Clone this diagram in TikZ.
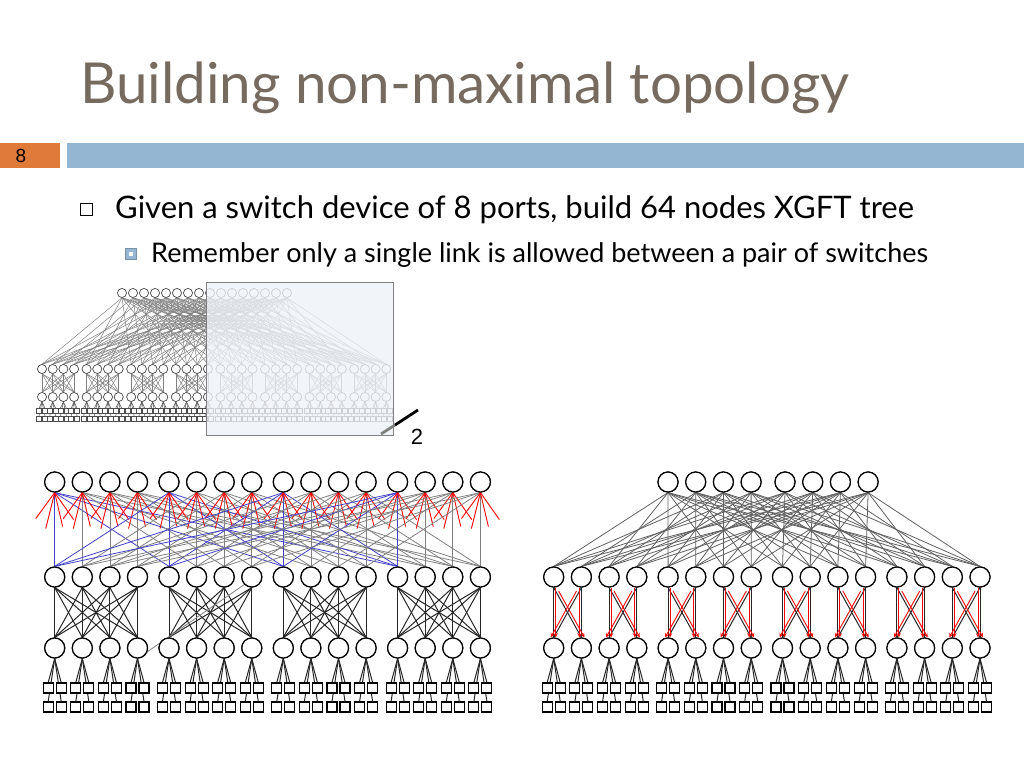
\documentclass[tikz,border=0pt]{standalone}
\usepackage{fontspec}
\setmainfont{Lato}
\newfontfamily\arialf{Liberation Sans}
\definecolor{titlec}{HTML}{776A5E}
\definecolor{barblue}{HTML}{94B6D3}
\definecolor{barorange}{HTML}{E07A38}
\definecolor{linkg}{HTML}{606060}
\definecolor{linkb}{HTML}{4040C8}
\definecolor{ovl}{HTML}{EEF2F7}
\begin{document}
\begin{tikzpicture}[x=1pt,y=-1pt,
  sw/.style={circle,draw,line width=1.2pt,minimum size=20pt,inner sep=0pt,fill=white},
  host/.style={rectangle,draw,line width=1.1pt,minimum size=10pt,inner sep=0pt,fill=white},
  ssw/.style={circle,draw,line width=0.6pt,minimum size=9pt,inner sep=0pt,fill=white,draw=black!70},
  shost/.style={rectangle,draw,line width=0.5pt,minimum size=5pt,inner sep=0pt,fill=white,draw=black!70},
  lnk/.style={linkg,line width=0.8pt},
  dn/.style={black!85,line width=1pt},
  rl/.style={red,line width=0.9pt}]
\useasboundingbox (0,0) rectangle (1024,768);
% header
\node[anchor=base west,inner sep=0pt,text=titlec,font=\fontsize{56.5}{60}\selectfont] (title) at (80,103) {Building non-maximal topology};
\fill[barorange] (0,143) rectangle (60,168);
\node[font=\fontsize{19}{20}\selectfont\arialf] (pg) at (21,155.5) {8};
\fill[barblue] (67,143) rectangle (1024,168);
\node[draw,line width=0.9pt,minimum size=12pt,inner sep=0pt] (b1) at (86,209) {};
\node[anchor=base west,inner sep=0pt,font=\fontsize{31}{34}\selectfont] (t1) at (115,218) {Given a switch device of 8 ports, build 64 nodes XGFT tree};
\node[draw=barblue!80!black,fill=barblue,line width=0.8pt,minimum size=11pt,inner sep=0pt] (b2) at (131,254) {};
\node[fill=white,minimum size=4pt,inner sep=0pt] at (131,254) {};
\node[anchor=base west,inner sep=0pt,font=\fontsize{27}{30}\selectfont] (t2) at (151,262) {Remember only a single link is allowed between a pair of switches};

% ===== small figure =====
\foreach \i in {0,...,31}{
  \pgfmathsetmacro\xx{42+mod(\i,4)*10.7+floor(\i/4)*44.6}
  \node[ssw] (SM\i) at (\xx,369) {};
  \node[ssw] (SB\i) at (\xx,397) {};
  \node[shost] (SHa\i) at (\xx-3,411) {};
  \node[shost] (SHb\i) at (\xx+3,411) {};
  \node[shost] (SHc\i) at (\xx-3,419) {};
  \node[shost] (SHd\i) at (\xx+3,419) {};
}
\foreach \i in {0,...,15}{
  \pgfmathsetmacro\xx{122+\i*11}
  \node[ssw] (ST\i) at (\xx,293) {};
}
\foreach \t in {0,...,15}{
  \foreach \g in {0,...,7}{
    \pgfmathtruncatemacro\m{\g*4+mod(\t,4)}
    \draw[gray,line width=0.5pt] (ST\t.south) -- (SM\m.north);
  }
}
\foreach \g in {0,...,7}{
  \foreach \a in {0,...,3}{
    \foreach \b in {0,...,3}{
      \pgfmathtruncatemacro\ma{\g*4+\a}
      \pgfmathtruncatemacro\mb{\g*4+\b}
      \draw[gray,line width=0.5pt] (SM\ma.south) -- (SB\mb.north);
    }
  }
}
\foreach \i in {0,...,31}{
  \foreach \h in {a,b,c,d}{\draw[black!70,line width=0.5pt] (SB\i.south) -- (SH\h\i.north);}
  \node[ssw] at (SM\i) {};\node[ssw] at (SB\i) {};
  \node[shost] at (SHa\i) {};\node[shost] at (SHb\i) {};
}
\foreach \i in {0,...,15}{\node[ssw] at (ST\i) {};}
\fill[ovl,opacity=0.8] (206,282) rectangle (393,435);
\draw[gray,line width=0.8pt] (206,282) rectangle (393,435);
\coordinate (slA) at (381,434);
\coordinate (slM) at (395,425);
\coordinate (slB) at (418,410);
\draw[line width=2.8pt,gray] (slA) -- (slM);
\draw[line width=2.8pt] (slM) -- (slB);
\node[font=\fontsize{22}{24}\selectfont\arialf] (two) at (417,437) {2};

% ===== big left =====
\foreach \i in {0,...,15}{
  \pgfmathsetmacro\xx{54.7+mod(\i,4)*27.6+floor(\i/4)*114.3}
  \node[sw] (LT\i) at (\xx,482) {};
  \node[sw] (LM\i) at (\xx,577) {};
  \node[sw] (LB\i) at (\xx,648) {};
  \node[host] (LHa\i) at (\xx-6.5,688) {};
  \node[host] (LHb\i) at (\xx+6.5,688) {};
  \node[host] (LHc\i) at (\xx-6.5,707) {};
  \node[host] (LHd\i) at (\xx+6.5,707) {};
}
\foreach \t in {0,...,15}{
  \foreach \g in {0,...,3}{
    \pgfmathtruncatemacro\m{\g*4+mod(\t,4)}
    \pgfmathtruncatemacro\r{mod(\t,4)}
    \ifnum\r=0
      \draw[linkb,line width=0.8pt] (LT\t.south) -- (LM\m.north);
    \else
      \draw[lnk,gray] (LT\t.south) -- (LM\m.north);
    \fi
  }
  \draw[rl] (LT\t.south) -- ++(-19,26);
  \draw[rl] (LT\t.south) -- ++(-9,36);
  \draw[rl] (LT\t.south) -- ++(8,34);
  \draw[rl] (LT\t.south) -- ++(19,27);
}
\foreach \g in {0,...,3}{
  \foreach \a in {0,...,3}{
    \foreach \b in {0,...,3}{
      \pgfmathtruncatemacro\ma{\g*4+\a}
      \pgfmathtruncatemacro\mb{\g*4+\b}
      \draw[dn] (LM\ma.south) -- (LB\mb.north);
    }
  }
}
\draw[lnk,gray] (LB3.south) -- (LM7.south west);
\foreach \i in {0,...,15}{
  \foreach \h in {a,b,c,d}{\draw[dn] (LB\i.south) -- (LH\h\i.north);}
  \node[host] at (LHa\i) {};\node[host] at (LHb\i) {};
  \node[sw] at (LT\i) {};\node[sw] at (LM\i) {};\node[sw] at (LB\i) {};
}

% ===== big right =====
\foreach \i in {0,...,15}{
  \pgfmathsetmacro\xx{553.7+mod(\i,4)*27.7+floor(\i/4)*114.4}
  \node[sw] (RM\i) at (\xx,577) {};
  \node[sw] (RB\i) at (\xx,648) {};
  \node[host] (RHa\i) at (\xx-6.5,688) {};
  \node[host] (RHb\i) at (\xx+6.5,688) {};
  \node[host] (RHc\i) at (\xx-6.5,707) {};
  \node[host] (RHd\i) at (\xx+6.5,707) {};
}
\foreach \i in {0,...,7}{
  \pgfmathsetmacro\xx{668+mod(\i,4)*27.7+floor(\i/4)*117}
  \node[sw] (RT\i) at (\xx,482) {};
}
\foreach \t in {0,...,7}{
  \foreach \p in {0,...,7}{
    \pgfmathtruncatemacro\m{2*\p+mod(\t,2)}
    \draw[lnk] (RT\t.south) -- (RM\m.north);
  }
}
\foreach \p in {0,...,7}{
  \pgfmathtruncatemacro\ma{2*\p}
  \pgfmathtruncatemacro\mb{2*\p+1}
  \draw[dn] (RM\ma.south) -- (RB\ma.north);
  \draw[dn] (RM\mb.south) -- (RB\mb.north);
  \draw[dn] (RM\ma.south) -- (RB\mb.north);
  \draw[dn] (RM\mb.south) -- (RB\ma.north);
  \draw[rl,->,>=stealth] ([xshift=2pt]RM\ma.south) -- ([xshift=2pt]RB\ma.north);
  \draw[rl,->,>=stealth] ([xshift=-2pt]RM\mb.south) -- ([xshift=-2pt]RB\mb.north);
  \draw[rl,->,>=stealth,shorten <=4pt] ([xshift=3pt]RM\ma.south) -- ([xshift=3pt]RB\mb.north);
  \draw[rl,->,>=stealth,shorten <=4pt] ([xshift=-3pt]RM\mb.south) -- ([xshift=-3pt]RB\ma.north);
}
\foreach \i in {0,...,15}{
  \foreach \h in {a,b,c,d}{\draw[dn] (RB\i.south) -- (RH\h\i.north);}
  \node[host] at (RHa\i) {};\node[host] at (RHb\i) {};
  \node[sw] at (RM\i) {};\node[sw] at (RB\i) {};
}
\foreach \i in {0,...,7}{\node[sw] at (RT\i) {};}
\end{tikzpicture}
\end{document}
